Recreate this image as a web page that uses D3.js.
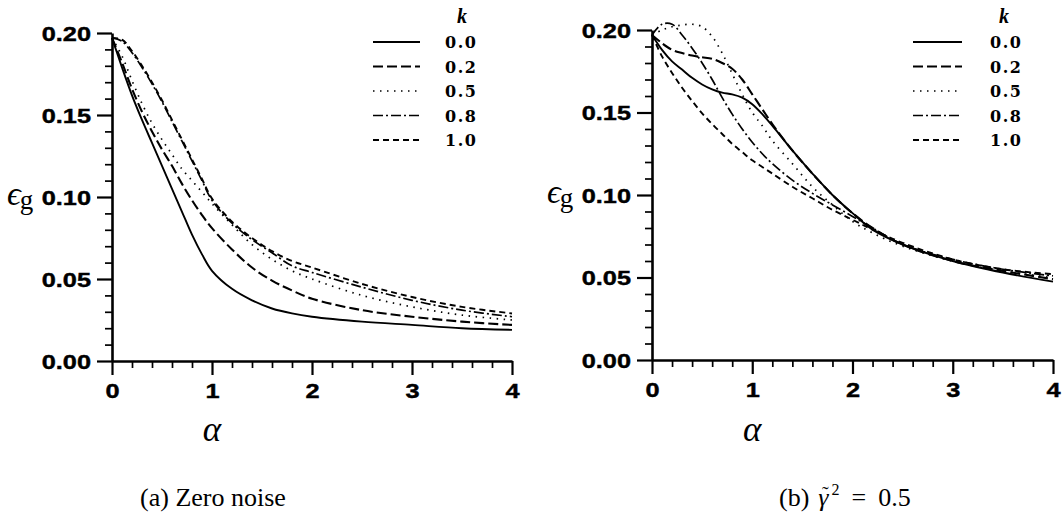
<!DOCTYPE html>
<html><head><meta charset="utf-8">
<script src="https://cdn.jsdelivr.net/npm/d3@7"></script>
<style>body{margin:0;background:#fff} svg{display:block}</style>
</head><body>
<svg id="c" width="1064" height="522"></svg>
<script>
// ---------- data ----------
const kLabels = ["0.0", "0.2", "0.5", "0.8", "1.0"];
const xTicks = [0, 1, 2, 3, 4];
const yTicks = [0.00, 0.05, 0.10, 0.15, 0.20];

// (a) zero noise
const alphaA = [0,0.1,0.2,0.3,0.4,0.5,0.6,0.7,0.8,0.9,1.0,1.2,1.4,1.6,1.8,2.0,2.5,3.0,3.5,4.0];
const errA_k00 = [0.197,0.179,0.162,0.147,0.133,0.119,0.105,0.091,0.077,0.065,0.055,0.044,0.037,0.032,0.029,0.027,0.024,0.022,0.020,0.019];
const errA_k02 = [0.197,0.182,0.166,0.152,0.140,0.129,0.119,0.108,0.098,0.089,0.081,0.068,0.057,0.049,0.043,0.038,0.031,0.027,0.024,0.022];
const errA_k05 = [0.197,0.186,0.171,0.157,0.145,0.135,0.126,0.117,0.110,0.103,0.096,0.083,0.071,0.062,0.055,0.050,0.040,0.033,0.028,0.025];
const errA_k08 = [0.197,0.195,0.188,0.179,0.169,0.158,0.146,0.134,0.122,0.110,0.098,0.084,0.074,0.066,0.058,0.054,0.045,0.037,0.031,0.027];
const errA_k10 = [0.197,0.196,0.189,0.180,0.170,0.159,0.147,0.135,0.123,0.111,0.099,0.085,0.075,0.067,0.061,0.057,0.047,0.039,0.033,0.029];

// (b) gamma^2 = 0.5
const alphaB = [0,0.1,0.2,0.3,0.4,0.5,0.6,0.7,0.8,0.9,1.0,1.1,1.2,1.4,1.6,1.8,2.0,2.2,2.5,3.0,3.5,4.0];
const errB_k00 = [0.197,0.188,0.181,0.176,0.171,0.167,0.164,0.162,0.161,0.159,0.155,0.149,0.142,0.127,0.113,0.100,0.089,0.079,0.070,0.060,0.053,0.0475];
const errB_k02 = [0.197,0.192,0.188,0.186,0.1845,0.1835,0.1825,0.180,0.1765,0.170,0.161,0.152,0.143,0.127,0.113,0.100,0.089,0.080,0.070,0.060,0.054,0.049];
const errB_k05 = [0.197,0.200,0.202,0.203,0.2035,0.202,0.196,0.186,0.1735,0.161,0.150,0.142,0.133,0.119,0.105,0.094,0.084,0.077,0.069,0.060,0.054,0.050];
const errB_k08 = [0.197,0.2035,0.2035,0.197,0.189,0.180,0.170,0.159,0.149,0.140,0.132,0.125,0.119,0.109,0.101,0.094,0.087,0.080,0.070,0.061,0.055,0.051];
const errB_k10 = [0.197,0.184,0.174,0.165,0.157,0.1495,0.143,0.137,0.131,0.126,0.121,0.117,0.113,0.105,0.098,0.091,0.085,0.079,0.071,0.061,0.055,0.052];

// ---------- drawing ----------
const svg = d3.select("#c");
const serif = "'Liberation Serif','Times New Roman',serif";
const sans = "'Liberation Sans',Arial,sans-serif";
const styles = [
  {dash: null, w: 1.9},
  {dash: "10,4", w: 2.1},
  {dash: "1.5,5.5", w: 1.7},
  {dash: "10,3,2,3", w: 1.7},
  {dash: "6,4", w: 1.9}
];

const panels = [
  {alpha: alphaA, series: [errA_k00, errA_k02, errA_k05, errA_k08, errA_k10],
   xr: [112, 512], yr: [361, 33], leg: {x0: 373, x1: 420, tx: 445, kx: 462}, ylabX: 7},
  {alpha: alphaB, series: [errB_k00, errB_k02, errB_k05, errB_k08, errB_k10],
   xr: [652, 1053], yr: [360, 30], leg: {x0: 913, x1: 962, tx: 990, kx: 1004}, ylabX: 547}
];

const SX = 1.3;
panels.forEach((p, pi) => {
  const x = d3.scaleLinear().domain([0, 4]).range(p.xr);
  const y = d3.scaleLinear().domain([0, 0.20]).range(p.yr);
  const g = svg.append("g");

  // curves
  const line = d3.line().x((d, i) => x(p.alpha[i])).y(d => y(d)).curve(d3.curveCatmullRom.alpha(0.5));
  p.series.forEach((s, si) => {
    g.append("path").datum(s).attr("d", line)
      .attr("fill", "none").attr("stroke", "#000")
      .attr("stroke-width", styles[si].w)
      .attr("stroke-dasharray", styles[si].dash);
  });

  // minor ticks
  const minorX = d3.range(0, 21).map(v => v / 5).filter(v => !xTicks.includes(v));
  const minorY = d3.range(0, 21).map(v => v / 100).filter(v => Math.abs(v * 20 - Math.round(v * 20)) > 1e-6);
  g.append("g").attr("transform", `translate(0,${y(0)})`)
    .call(d3.axisBottom(x).tickValues(minorX).tickSize(7).tickSizeOuter(0).tickFormat(""))
    .call(a => a.select(".domain").remove())
    .selectAll("line").attr("stroke-width", 1.7);
  g.append("g").attr("transform", `translate(${x(0)},0)`)
    .call(d3.axisLeft(y).tickValues(minorY).tickSize(7).tickSizeOuter(0).tickFormat(""))
    .call(a => a.select(".domain").remove())
    .selectAll("line").attr("stroke-width", 1.7);

  // major axes
  const gx = g.append("g").attr("transform", `translate(0,${y(0)})`)
    .call(d3.axisBottom(x).tickValues(xTicks).tickSize(14).tickSizeOuter(0).tickFormat(d3.format("d")));
  const gy = g.append("g").attr("transform", `translate(${x(0)},0)`)
    .call(d3.axisLeft(y).tickValues(yTicks).tickSize(15).tickSizeOuter(0).tickFormat(d3.format(".2f")));
  [gx, gy].forEach(a => {
    a.select(".domain").attr("stroke-width", 2.6);
    a.selectAll(".tick line").attr("stroke-width", 2.2);
    a.selectAll("text").attr("font-family", sans).attr("font-weight", "bold")
      .attr("font-size", 19.5).attr("fill", "#000")
      .attr("stroke", "#000").attr("stroke-width", 0.4);
  });
  gx.selectAll("text").attr("y", 37).attr("dy", 0)
    .attr("transform", `scale(${SX},1)`);
  gy.selectAll("text").attr("x", -21 / SX).attr("dy", "0.36em")
    .attr("transform", `scale(${SX},1)`);

  // axis titles
  const yl = g.append("text").attr("x", p.ylabX).attr("y", (y(0.10) + 8));
  yl.append("tspan").text("ϵ").attr("font-family", serif).attr("font-style", "italic").attr("font-size", 34);
  yl.append("tspan").text("g").attr("font-family", serif).attr("font-size", 27).attr("dy", 4).attr("dx", -1);
  g.append("text").attr("x", x(1)).attr("y", 441).attr("text-anchor", "middle")
    .attr("font-family", serif).attr("font-style", "italic").attr("font-size", 35).text("α");

  // legend
  const L = p.leg;
  g.append("text").attr("x", L.kx).attr("y", 23).attr("text-anchor", "middle")
    .attr("font-family", serif).attr("font-style", "italic").attr("font-weight", "bold")
    .attr("font-size", 20).text("k");
  kLabels.forEach((lab, i) => {
    const cy = 42 + i * 24.5;
    g.append("line").attr("x1", L.x0).attr("x2", L.x1).attr("y1", cy).attr("y2", cy)
      .attr("stroke", "#000").attr("stroke-width", styles[i].w)
      .attr("stroke-dasharray", styles[i].dash);
    g.append("text").attr("x", L.tx).attr("y", cy + 6)
      .attr("font-family", "'DejaVu Serif',serif").attr("font-weight", "bold")
      .attr("font-size", 16).attr("letter-spacing", 1.5).text(lab);
  });
});

// captions
svg.append("text").attr("x", 213).attr("y", 506).attr("text-anchor", "middle")
  .attr("font-family", serif).attr("font-size", 26).text("(a) Zero noise");
const cb = svg.append("text").attr("x", 779).attr("y", 506)
  .attr("font-family", serif).attr("font-size", 26);
cb.append("tspan").text("(b)");
cb.append("tspan").text("γ").attr("font-style", "italic").attr("dx", 9);
const tt = cb.append("tspan").text("˜").attr("font-size", 20).attr("dy", -5);
const t2 = cb.append("tspan").text("2").attr("font-size", 16).attr("dy", -6);
cb.append("tspan").text("=").attr("dy", 11).attr("dx", 12);
cb.append("tspan").text("0.5").attr("dx", 12);
// centre the tilde over gamma and put the exponent right after gamma
const nd = cb.node();
const gE = nd.getExtentOfChar(3);
const tE = nd.getExtentOfChar(4);
const tdx = (gE.x + gE.width / 2 + 2) - (tE.x + tE.width / 2);
tt.attr("dx", tdx);
t2.attr("dx", (gE.x + gE.width + 3) - (tE.x + tE.width + tdx));
</script>
</body></html>
